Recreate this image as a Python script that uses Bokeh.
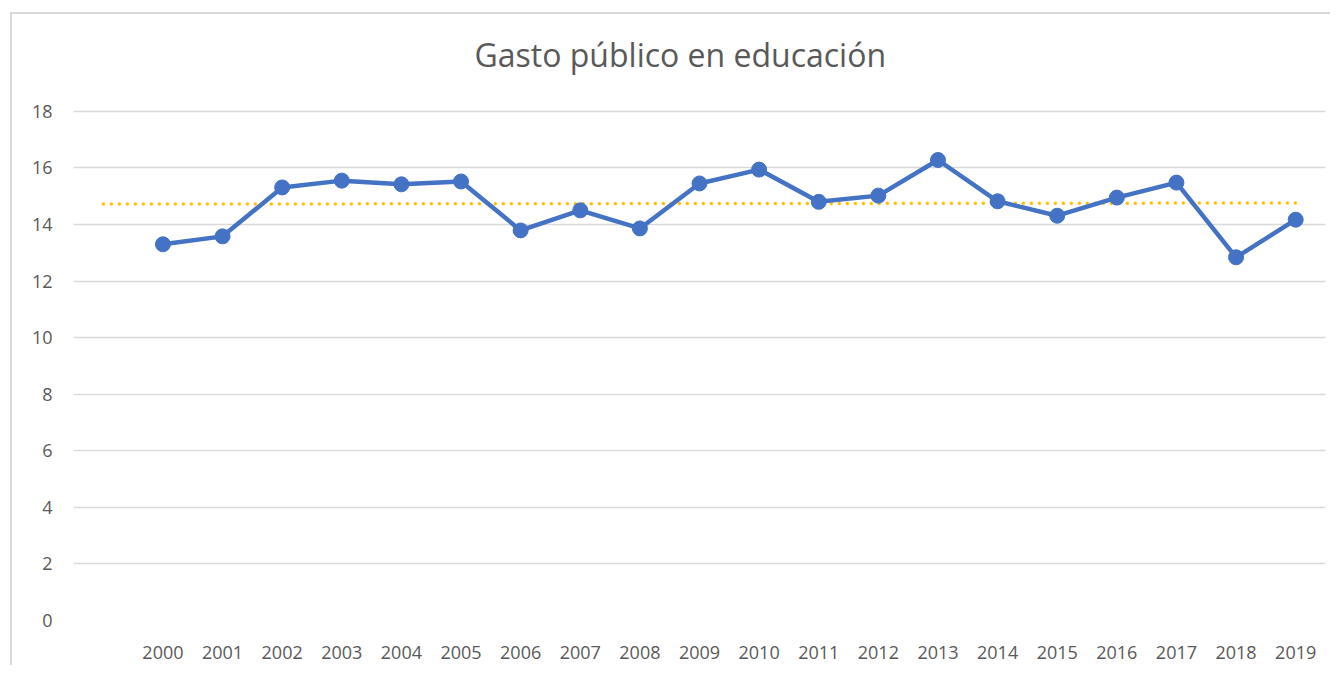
from bokeh.plotting import figure
from bokeh.models import Range1d, FixedTicker
from bokeh.embed import file_html
from bokeh.resources import INLINE

# ---- data ----
years = ["2000", "2001", "2002", "2003", "2004", "2005", "2006", "2007", "2008", "2009",
         "2010", "2011", "2012", "2013", "2014", "2015", "2016", "2017", "2018", "2019"]
gasto = [13.3, 13.58, 15.31, 15.55, 15.42, 15.52, 13.79, 14.5, 13.86, 15.45,
         15.94, 14.8, 15.02, 16.28, 14.82, 14.31, 14.95, 15.48, 12.84, 14.17]
# dotted trend line: category positions (0 = empty first category) and values
trend_pos = [0, 20]
trend_val = [14.72, 14.76]
y_ticks = [0, 2, 4, 6, 8, 10, 12, 14, 16, 18]
title_text = "Gasto público en educación"

FONT = "Open Sans"
TXT = "#595959"
GRID = "#d9d9d9"

# categories occupy positions 1..20 (position 0 is an empty category)
x_pos = list(range(1, len(years) + 1))

# frame extends a little above the top tick (18) so the title sits higher
p = figure(width=1320, height=653, output_backend="svg", toolbar_location=None,
           x_range=Range1d(-0.5, len(years) + 0.5), y_range=Range1d(0, 19.09),
           min_border_left=61, min_border_right=7, min_border_top=66, min_border_bottom=47,
           title=title_text)
p.margin = (12, 0, 0, 10)
p.styles = {"border-top": "2px solid #d9d9d9", "border-left": "2px solid #d9d9d9"}
p.outline_line_color = None
p.background_fill_color = "white"
p.border_fill_color = "white"

# title
p.title.align = "left"
p.title.offset = 401
p.title.text_font = FONT
p.title.text_font_size = "32px"
p.title.text_font_style = "normal"
p.title.text_color = TXT
p.title.standoff = 10

# axes
p.xaxis.ticker = FixedTicker(ticks=x_pos)
p.xaxis.major_label_overrides = {x: y for x, y in zip(x_pos, years)}
p.yaxis.ticker = FixedTicker(ticks=y_ticks)
for ax in (p.xaxis[0], p.yaxis[0]):
    ax.axis_line_color = None
    ax.major_tick_line_color = None
    ax.minor_tick_line_color = None
    ax.major_tick_out = 0
    ax.major_tick_in = 0
    ax.major_label_text_font = FONT
    ax.major_label_text_font_size = "18px"
    ax.major_label_text_color = TXT
    ax.major_label_standoff = 21
p.xaxis.major_label_standoff = 25

p.xgrid.grid_line_color = None
p.ygrid.grid_line_color = GRID
p.ygrid.grid_line_width = 1.5

# trend line (dotted gold)
p.line(trend_pos, trend_val, line_color="#FFC000", line_width=3.5,
       line_dash="0 8", line_cap="round")

# series
p.line(x_pos, gasto, line_color="#4472C4", line_width=4.5, line_join="round")
p.scatter(x_pos, gasto, size=15, fill_color="#4472C4", line_color="#4472C4")

open("out.html", "w").write(file_html(p, INLINE))
